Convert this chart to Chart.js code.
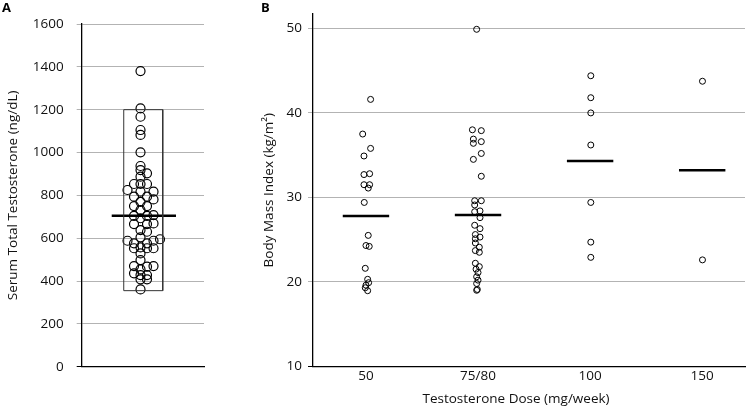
<!DOCTYPE html>
<html>
<head>
<meta charset="utf-8">
<script src="https://cdn.jsdelivr.net/npm/chart.js@4.4.1/dist/chart.umd.min.js"></script>
<style>
  body { margin: 0; background: #fff; overflow: hidden; }
  #wrap { position: relative; width: 750px; height: 409px; }
  canvas { position: absolute; top: 0; }
  #chartA { left: 0; }
  #chartB { left: 230px; }
  .panel { position: absolute; top: -2px; font: bold 13px "Open Sans", sans-serif; color: #000; }
</style>
</head>
<body>
<div id="wrap">
  <canvas id="chartA" width="225" height="409"></canvas>
  <canvas id="chartB" width="520" height="409"></canvas>
  <div class="panel" style="left:2px">A</div>
  <div class="panel" style="left:261px">B</div>
</div>
<script>
// ===== Data =====
// Panel A: serum total testosterone (ng/dL), one value per subject
const testoValues = [
  1380, 1206, 1167, 1105, 1082, 1001, 937, 918, 903, 887,
  853, 853, 853, 825, 817, 817, 794, 794, 781, 770,
  750, 750, 731, 704, 704, 708, 693, 666, 666, 669,
  638, 630, 604, 588, 595, 576, 576, 588, 553, 557,
  553, 553, 529, 498, 470, 470, 454, 467, 436, 428,
  428, 408, 408, 361
];
// beeswarm column of each point (0 = centre)
const testoSlots = [
  0, 0, 0, 0, 0, 0, 0, 0, 1, 0,
  0, -1, 1, -2, 0, 2, -1, 1, 2, 0,
  -1, 1, 0, -1, 1, 2, 0, -1, 1, 2,
  0, 1, 0, -2, 3, -1, 1, 2, -1, 0,
  1, 2, 0, 0, -1, 2, 0, 1, -1, 0,
  1, 0, 1, 0
];
const testoMean = 705;
const testoRange = [355, 1200];
const testoTicks = [0, 200, 400, 600, 800, 1000, 1200, 1400, 1600];

// Panel B: BMI by testosterone dose
const doseLabels = ['50', '75/80', '100', '150'];
const bmi50 = [41.6, 37.5, 35.8, 34.9, 32.7, 32.8, 31.5, 31.5, 31.1, 29.4,
  25.5, 24.3, 24.2, 21.6, 20.3, 19.9, 19.6, 19.3, 18.95];
const jit50 = [4.7, -3.3, 4.7, -2, -2, 3.7, -2, 3.7, 2.3, -1.7,
  2.3, 0, 3.3, -0.7, 1.7, 2.7, 0, -0.7, 1.7];
const bmi75 = [49.9, 38.0, 37.9, 36.9, 36.4, 36.6, 35.2, 34.5, 32.5, 29.6,
  29.6, 29.1, 28.4, 28.3, 27.6, 26.7, 26.3, 25.6, 25.3, 25.1,
  24.6, 24.1, 23.7, 23.5, 22.2, 21.8, 21.5, 21.1, 20.6, 20.2,
  19.8, 19.1, 19.0];
const jit75 = [-1.4, -5.7, 3.3, -4.7, -4.7, 3.3, 3.3, -4.7, 3.3, -3.4,
  3.3, -3.4, 2, -3.4, 2, -3.4, 2, -2.7, 2, -2.7,
  -2.7, 1.3, -2.7, 1.3, -2.7, 1.3, -2, 0, -1.4, 0,
  -1.4, -0.7, -1.4];
const bmi100 = [44.4, 41.8, 40.0, 36.2, 29.4, 24.7, 22.9];
const jit100 = [0.7, 0.7, 0.7, 0.7, 0.7, 0.7, 0.7];
const bmi150 = [43.75, 22.6];
const jit150 = [0.3, 0.3];
const bmiMeans = [27.8, 27.9, 34.3, 33.2];
const bmiTicks = [10, 20, 30, 40, 50];

// ===== Shared style =====
const FONT = { family: '"Open Sans", sans-serif', size: 13.5 };
const GRID = '#b3b3b3';
const INK = '#111';
Chart.defaults.font = FONT;
Chart.defaults.color = INK;
Chart.defaults.animation = false;

const CAT_PX = 113.3; // pixels per dose category, used to turn jitter into axis units

function segment(x1, x2, y) {
  return [{ x: x1, y }, { x: x2, y }];
}

// ===== Panel A =====
const testoPoints = testoValues.map((v, i) => ({ x: testoSlots[i], y: v }));
const boxPts = [
  { x: -2.58, y: testoRange[0] }, { x: -2.58, y: testoRange[1] },
  { x: 3.42, y: testoRange[1] }, { x: 3.42, y: testoRange[0] },
  { x: -2.58, y: testoRange[0] }
];

new Chart(document.getElementById('chartA'), {
  type: 'scatter',
  data: {
    datasets: [
      { data: boxPts, showLine: true, borderColor: '#333', borderWidth: 1, pointRadius: 0 },
      {
        data: testoPoints, pointRadius: 4.5, borderColor: '#000', borderWidth: 1.2,
        backgroundColor: 'rgba(0,0,0,0)'
      },
      { data: segment(-4.43, 5.46, testoMean), showLine: true, borderColor: '#000', borderWidth: 2.6, pointRadius: 0 }
    ]
  },
  options: {
    responsive: false,
    devicePixelRatio: 1,
    layout: { padding: { top: 24, right: 21, bottom: 0, left: 0 } },
    plugins: { legend: { display: false }, tooltip: { enabled: false } },
    scales: {
      x: {
        type: 'linear', min: -9.05, max: 9.77,
        ticks: { display: false },
        grid: { display: false, drawTicks: false },
        border: { color: '#000', width: 1.3 },
        afterFit: (s) => { s.height = 409 - 366.7; }
      },
      y: {
        min: 0, max: 1600,
        afterBuildTicks: (s) => { s.ticks = testoTicks.map((v) => ({ value: v })); },
        ticks: { padding: 13, callback: (v) => String(v) },
        grid: {
          color: GRID, lineWidth: 1, tickLength: 5,
          tickColor: (c) => (c.tick && c.tick.value === 0 ? '#000' : GRID)
        },
        border: { color: '#000', width: 1.3 },
        title: { display: true, text: 'Serum Total Testosterone (ng/dL)', padding: { top: 5 } },
        afterFit: (s) => { s.width = 81.7; }
      }
    }
  }
});

// ===== Panel B =====
function groupPoints(vals, jit, cat) {
  return vals.map((v, i) => ({ x: cat + jit[i] / CAT_PX, y: v }));
}
const groups = [[bmi50, jit50], [bmi75, jit75], [bmi100, jit100], [bmi150, jit150]];
const datasetsB = [];
groups.forEach(([vals, jit], i) => {
  datasetsB.push({
    data: groupPoints(vals, jit, i + 1), pointRadius: 3, borderColor: '#000',
    borderWidth: 1, backgroundColor: 'rgba(0,0,0,0)'
  });
  datasetsB.push({
    data: segment(i + 1 - 0.207, i + 1 + 0.207, bmiMeans[i]), showLine: true,
    borderColor: '#000', borderWidth: 2.5, pointRadius: 0
  });
});

const xTitlePlugin = {
  id: 'xTitle',
  afterDraw(chart) {
    const ctx = chart.ctx;
    ctx.save();
    ctx.font = `${FONT.size}px ${FONT.family}`;
    ctx.fillStyle = INK;
    ctx.textAlign = 'center';
    ctx.textBaseline = 'middle';
    ctx.fillText('Testosterone Dose (mg/week)', 286, 399);
    ctx.restore();
  }
};

new Chart(document.getElementById('chartB'), {
  type: 'scatter',
  data: { datasets: datasetsB },
  plugins: [xTitlePlugin],
  options: {
    responsive: false,
    devicePixelRatio: 1,
    layout: { padding: { top: 11.7, right: 0, bottom: 0, left: 0 } },
    plugins: { legend: { display: false }, tooltip: { enabled: false } },
    scales: {
      x: {
        type: 'linear', min: 0.523, max: 4.382,
        afterBuildTicks: (s) => { s.ticks = doseLabels.map((_, i) => ({ value: i + 1 })); },
        ticks: { padding: 1.5, callback: (v) => doseLabels[v - 1] },
        grid: { display: false, drawTicks: false },
        border: { color: '#000', width: 1.3 },
        afterFit: (s) => { s.height = 409 - 366.3; }
      },
      y: {
        min: 10, max: 51.7,
        afterBuildTicks: (s) => { s.ticks = bmiTicks.map((v) => ({ value: v })); },
        ticks: { padding: 6, callback: (v) => String(v) },
        grid: {
          color: GRID, lineWidth: 1, tickLength: 4.5,
          tickColor: (c) => (c.tick && c.tick.value === 10 ? '#000' : GRID)
        },
        border: { color: '#000', width: 1.3 },
        title: { display: true, text: 'Body Mass Index (kg/m²)', padding: { top: 31 } },
        afterFit: (s) => { s.width = 82.5; }
      }
    }
  }
});
</script>
</body>
</html>
